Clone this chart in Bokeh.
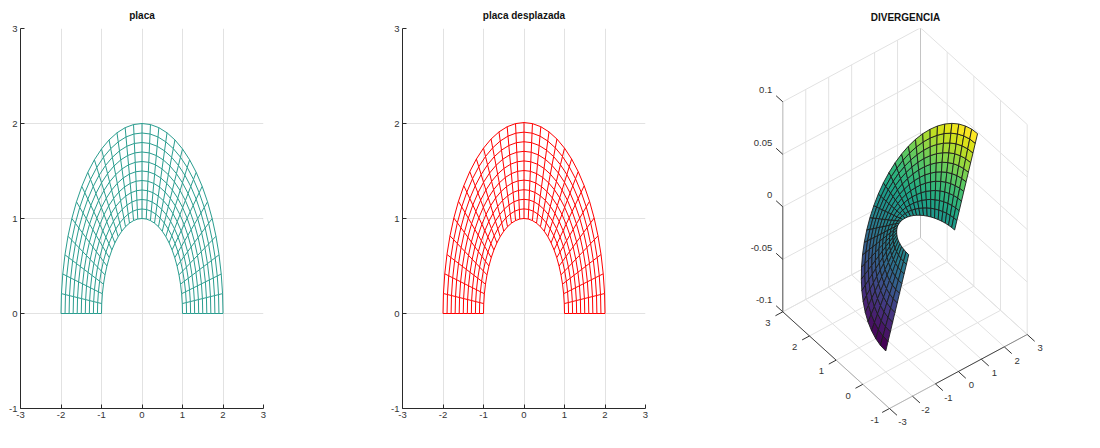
from math import cos, sin, radians
from bokeh.plotting import figure
from bokeh.layouts import row
from bokeh.models import Range1d, FixedTicker, Title
from bokeh.core.properties import value
from bokeh.palettes import Viridis256
from bokeh.embed import file_html
from bokeh.resources import INLINE

titles = ["placa", "placa desplazada", "DIVERGENCIA"]
x_ticks = [-3, -2, -1, 0, 1, 2, 3]
y_ticks = [-1, 0, 1, 2, 3]
z_ticks = [-0.1, -0.05, 0, 0.05, 0.1]
z_tick_labels = ["-0.1", "-0.05", "0", "0.05", "0.1"]

radios = [1.0, 1.1, 1.2, 1.3, 1.4, 1.5, 1.6, 1.7, 1.8, 1.9, 2.0]
radios_y_desplazada = [1.0, 1.101, 1.202, 1.303, 1.404, 1.505, 1.606, 1.707, 1.808, 1.909, 2.01]
angulos = [0, 6, 12, 18, 24, 30, 36, 42, 48, 54, 60, 66, 72, 78, 84, 90,
           96, 102, 108, 114, 120, 126, 132, 138, 144, 150, 156, 162, 168, 174, 180]

# divergence at each mesh node: one row per radius, one column per angle
divergencia = [
 [0]*31,
 [.0080,.0080,.0078,.0076,.0073,.0069,.0065,.0059,.0054,.0047,.0040,.0033,.0025,.0017,.0008,0,-.0008,-.0017,-.0025,-.0033,-.0040,-.0047,-.0054,-.0059,-.0065,-.0069,-.0073,-.0076,-.0078,-.0080,-.0080],
 [.0160,.0159,.0156,.0152,.0146,.0139,.0129,.0119,.0107,.0094,.0080,.0065,.0049,.0033,.0017,0,-.0017,-.0033,-.0049,-.0065,-.0080,-.0094,-.0107,-.0119,-.0129,-.0139,-.0146,-.0152,-.0156,-.0159,-.0160],
 [.0240,.0239,.0235,.0228,.0219,.0208,.0194,.0178,.0161,.0141,.0120,.0098,.0074,.0050,.0025,0,-.0025,-.0050,-.0074,-.0098,-.0120,-.0141,-.0161,-.0178,-.0194,-.0208,-.0219,-.0228,-.0235,-.0239,-.0240],
 [.0320,.0318,.0313,.0304,.0292,.0277,.0259,.0238,.0214,.0188,.0160,.0130,.0099,.0067,.0033,0,-.0033,-.0067,-.0099,-.0130,-.0160,-.0188,-.0214,-.0238,-.0259,-.0277,-.0292,-.0304,-.0313,-.0318,-.0320],
 [.0400,.0398,.0391,.0380,.0365,.0346,.0324,.0297,.0268,.0235,.0200,.0163,.0124,.0083,.0042,0,-.0042,-.0083,-.0124,-.0163,-.0200,-.0235,-.0268,-.0297,-.0324,-.0346,-.0365,-.0380,-.0391,-.0398,-.0400],
 [.0480,.0477,.0469,.0457,.0438,.0416,.0388,.0357,.0321,.0282,.0240,.0195,.0148,.0100,.0050,0,-.0050,-.0100,-.0148,-.0195,-.0240,-.0282,-.0321,-.0357,-.0388,-.0416,-.0438,-.0457,-.0469,-.0477,-.0480],
 [.0560,.0557,.0548,.0533,.0512,.0485,.0453,.0416,.0375,.0329,.0280,.0228,.0173,.0116,.0059,0,-.0059,-.0116,-.0173,-.0228,-.0280,-.0329,-.0375,-.0416,-.0453,-.0485,-.0512,-.0533,-.0548,-.0557,-.0560],
 [.0640,.0636,.0626,.0609,.0585,.0554,.0518,.0476,.0428,.0376,.0320,.0260,.0198,.0133,.0067,0,-.0067,-.0133,-.0198,-.0260,-.0320,-.0376,-.0428,-.0476,-.0518,-.0554,-.0585,-.0609,-.0626,-.0636,-.0640],
 [.0720,.0716,.0704,.0685,.0658,.0624,.0582,.0535,.0482,.0423,.0360,.0293,.0222,.0150,.0075,0,-.0075,-.0150,-.0222,-.0293,-.0360,-.0423,-.0482,-.0535,-.0582,-.0624,-.0658,-.0685,-.0704,-.0716,-.0720],
 [.0800,.0796,.0782,.0761,.0731,.0693,.0647,.0594,.0535,.0470,.0400,.0325,.0247,.0166,.0084,0,-.0084,-.0166,-.0247,-.0325,-.0400,-.0470,-.0535,-.0594,-.0647,-.0693,-.0731,-.0761,-.0782,-.0796,-.0800],
]

FONT = "Liberation Sans"
TXT = "#333333"
GRID = "#e2e2e2"
AX = "#2a2a2a"
TICK_SIZE = "9.5px"
TEAL = "#2a9d8f"
RED = "#ff0000"


def mesh_segments(rx, ry):
    x0, y0, x1, y1 = [], [], [], []
    for a, b in zip(rx, ry):
        for s, t in zip(angulos[:-1], angulos[1:]):
            x0.append(a * cos(radians(s))); y0.append(b * sin(radians(s)))
            x1.append(a * cos(radians(t))); y1.append(b * sin(radians(t)))
    for t in angulos:
        for i in range(len(rx) - 1):
            x0.append(rx[i] * cos(radians(t))); y0.append(ry[i] * sin(radians(t)))
            x1.append(rx[i + 1] * cos(radians(t))); y1.append(ry[i + 1] * sin(radians(t)))
    return x0, y0, x1, y1


def panel2d(title, color, left, width, rx, ry):
    p = figure(width=width, height=432, x_range=Range1d(-3, 3), y_range=Range1d(-1, 3),
               output_backend="svg", toolbar_location=None, frame_align=False,
               min_border_left=left, min_border_right=width - left - 243,
               min_border_top=28, min_border_bottom=24)
    p.title = Title(text=title, text_font=FONT, text_font_size="10px", text_font_style="bold",
                    text_color="#111111", align="center", standoff=15)
    p.outline_line_color = None
    p.background_fill_color = "white"
    for ax, t in ((p.xaxis, x_ticks), (p.yaxis, y_ticks)):
        ax.ticker = FixedTicker(ticks=t)
        ax.major_label_overrides = {v: str(v) for v in t}
        ax.major_label_text_font = FONT
        ax.major_label_text_font_size = TICK_SIZE
        ax.major_label_text_color = TXT
        ax.axis_line_color = AX
        ax.major_tick_line_color = AX
        ax.major_tick_in = 4
        ax.major_tick_out = 0
        ax.minor_tick_line_color = None
        ax.major_label_standoff = 3
    p.grid.grid_line_color = GRID
    p.grid.grid_line_width = 1
    x0, y0, x1, y1 = mesh_segments(rx, ry)
    p.segment(x0, y0, x1, y1, line_color=color, line_width=1)
    return p


p1 = panel2d(titles[0], TEAL, 20, 378, radios, radios)
p2 = panel2d(titles[1], RED, 24, 370, radios, radios_y_desplazada)

# ---- 3D panel: orthographic projection of the plot box to the panel's coordinates
XLO, XHI, YLO, YHI, ZLO, ZHI = -3, 3, -1, 3, -0.1, 0.1
O = (889.0, 408.0)
U = (137.7, -74.0)
V = (-106.7, -96.7)
W = (0.0, -210.0)


def proj(x, y, z):
    a = (x - XLO) / (XHI - XLO)
    b = (y - YLO) / (YHI - YLO)
    c = (z - ZLO) / (ZHI - ZLO)
    return (O[0] + a * U[0] + b * V[0] + c * W[0], O[1] + a * U[1] + b * V[1] + c * W[1])


def depth(x, y, z):
    a = (x - XLO) / (XHI - XLO)
    b = (y - YLO) / (YHI - YLO)
    c = (z - ZLO) / (ZHI - ZLO)
    return -76.6 * a - 98.8 * b + 203.0 * c


p3 = figure(width=336, height=432, x_range=Range1d(749, 1061), y_range=Range1d(432, 28),
            output_backend="svg", toolbar_location=None, frame_align=False,
            x_axis_location=None, y_axis_location=None,
            min_border_left=1, min_border_right=23, min_border_top=28, min_border_bottom=0)
p3.title = Title(text=titles[2], text_font=FONT, text_font_size="10px", text_font_style="bold",
                 text_color="#111111", align="center", standoff=12)
p3.outline_line_color = None
p3.grid.visible = False


def seg(r, a, b, color=GRID, width=1):
    pa, pb = proj(*a), proj(*b)
    r.append(([pa[0], pb[0]], [pa[1], pb[1]], color, width))


segs = []
for x in x_ticks:
    seg(segs, (x, YLO, ZLO), (x, YHI, ZLO))
    seg(segs, (x, YHI, ZLO), (x, YHI, ZHI))
for y in y_ticks:
    seg(segs, (XLO, y, ZLO), (XHI, y, ZLO))
    seg(segs, (XHI, y, ZLO), (XHI, y, ZHI))
for z in z_ticks:
    seg(segs, (XLO, YHI, z), (XHI, YHI, z))
    seg(segs, (XHI, YHI, z), (XHI, YLO, z))
seg(segs, (XHI, YHI, ZLO), (XHI, YHI, ZHI), "#c4c4c4")
# axis lines
seg(segs, (XLO, YHI, 0), (XLO, YHI, ZHI), "#c0c0c0")
seg(segs, (XLO, YHI, ZLO), (XLO, YHI, 0), "#555555")
seg(segs, (XLO, YLO, ZLO), (-1, YLO, ZLO), "#b8b8b8")
seg(segs, (-1, YLO, ZLO), (2, YLO, ZLO), "#444444")
seg(segs, (2, YLO, ZLO), (XHI, YLO, ZLO), "#888888")
seg(segs, (XLO, YHI, ZLO), (XLO, 1, ZLO), "#444444")
seg(segs, (XLO, 1, ZLO), (XLO, YLO, ZLO), "#b0b0b0")
# ticks
for x in x_ticks:
    seg(segs, (x, YLO, ZLO), (x, YLO - 0.28, ZLO), "#333333")
for y in y_ticks:
    seg(segs, (XLO, y, ZLO), (XLO - 0.32, y, ZLO), "#333333")
for z in z_ticks:
    seg(segs, (XLO, YHI, z), (XLO, YHI + 0.25, z), "#333333")
p3.multi_line([s[0] for s in segs], [s[1] for s in segs],
              line_color=[s[2] for s in segs], line_width=[s[3] for s in segs])

# surface cells, far ones first; each cell takes the colour of its outer corner
zmin = min(min(r) for r in divergencia)
zmax = max(max(r) for r in divergencia)
cells = []
for i in range(len(radios) - 1):
    for j in range(len(angulos) - 1):
        corners = [(i, j), (i + 1, j), (i + 1, j + 1), (i, j + 1)]
        pts = [(radios[a] * cos(radians(angulos[b])), radios[a] * sin(radians(angulos[b])), divergencia[a][b])
               for a, b in corners]
        zc = divergencia[i + 1][j]
        d = sum(depth(*q) for q in pts) / 4
        idx = min(255, max(0, int(round((zc - zmin) / (zmax - zmin) * 255))))
        sp = [proj(*q) for q in pts]
        cells.append((d, [s[0] for s in sp], [s[1] for s in sp], Viridis256[idx]))
cells.sort(key=lambda c: c[0])
p3.patches([c[1] for c in cells], [c[2] for c in cells], fill_color=[c[3] for c in cells],
           line_color="#1c1c1c", line_width=0.9)

# tick labels
lx, ly, lt, = [], [], []
for x in x_ticks:
    q = proj(x, YLO, ZLO)
    lx.append(q[0] + 13); ly.append(q[1] + 13.8); lt.append(str(x))
for y in y_ticks:
    q = proj(XLO, y, ZLO)
    lx.append(q[0] - 14.8); ly.append(q[1] + 11.3); lt.append(str(y))
p3.text(lx, ly, text=lt, text_font=value(FONT), text_font_size=value(TICK_SIZE), text_color=TXT,
        text_align="center", text_baseline="middle")
zx = [proj(XLO, YHI, z)[0] - 10.5 for z in z_ticks]
zy = [proj(XLO, YHI, z)[1] - 11.7 for z in z_ticks]
p3.text(zx, zy, text=z_tick_labels, text_font=value(FONT), text_font_size=value(TICK_SIZE), text_color=TXT,
        text_align="right", text_baseline="middle")

layout = row(p1, p2, p3, spacing=0)
open("out.html", "w").write(file_html(layout, INLINE))
